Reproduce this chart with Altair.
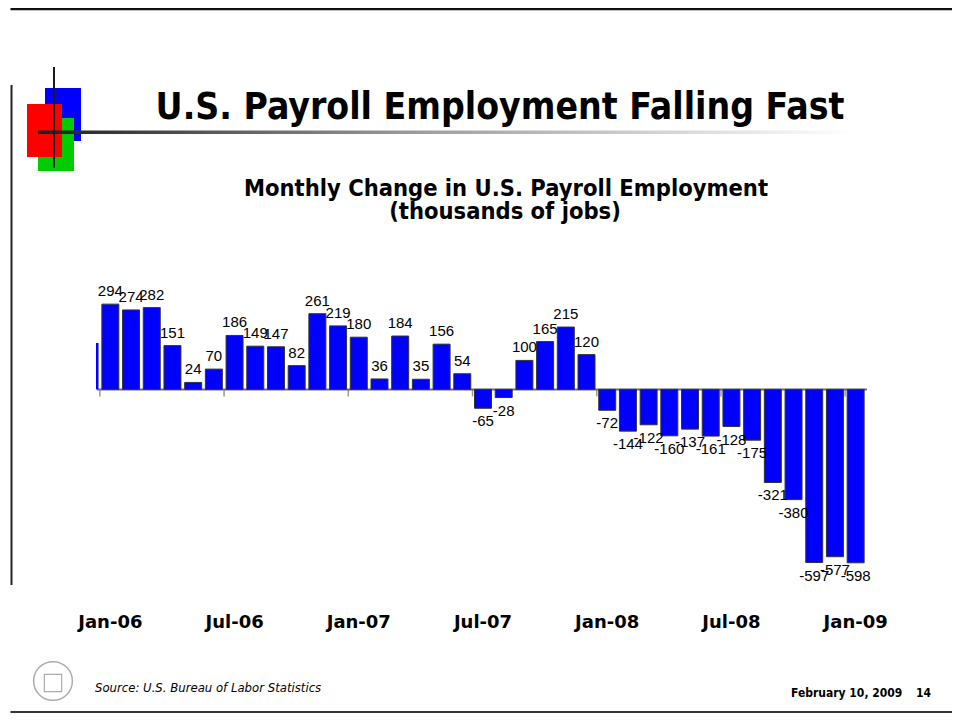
import altair as alt
import pandas as pd

# ---------------- data ----------------
month_abbr = ["Jan", "Feb", "Mar", "Apr", "May", "Jun",
              "Jul", "Aug", "Sep", "Oct", "Nov", "Dec"]
years = ["06", "07", "08", "09"]
months = [f"{m}-{y}" for y in years for m in month_abbr][:37]   # Jan-06 .. Jan-09

changes = [294, 274, 282, 151, 24, 70, 186, 149, 147, 82, 261, 219,
           180, 36, 184, 35, 156, 54, -65, -28, 100, 165, 215, 120,
           -72, -144, -122, -160, -137, -161, -128, -175, -321, -380, -597, -577,
           -598]
prior_month_value = [160]   # Dec-05, only its edge shows at the left

tick_labels = ["Jan-06", "Jul-06", "Jan-07", "Jul-07", "Jan-08", "Jul-08", "Jan-09"]

title = "U.S. Payroll Employment Falling Fast"
subtitle = ["Monthly Change in U.S. Payroll Employment", "(thousands of jobs)"]
source = "Source: U.S. Bureau of Labor Statistics"
date_text = "February 10, 2009"
page_no = "14"

df = pd.DataFrame({"month": months, "change": changes})
ticks_df = pd.DataFrame({"month": tick_labels})
one = pd.DataFrame({"k": [0]})
prior_df = pd.DataFrame({"v": prior_month_value})

# ---------------- scales ----------------
W, H = 766, 290
xs = alt.Scale(domain=months, paddingInner=0.18, paddingOuter=0.09)
ys = alt.Scale(domain=[-640, 360], nice=False, zero=False)
X = lambda **kw: alt.X("month:N", scale=xs, axis=None, sort=months, **kw)
Y = lambda f: alt.Y(f, scale=ys, axis=None)

bars = alt.Chart(df).mark_bar(color="#0000FF", stroke="#333333", strokeWidth=1).encode(
    x=X(), y=Y("change:Q"), y2=alt.datum(0),
)

labels_base = alt.Chart(df).transform_calculate(lbl="'' + datum.change")
lab_pos = labels_base.transform_filter("datum.change >= 0").mark_text(
    font="Liberation Sans", fontSize=15, color="black", baseline="alphabetic", dy=-8
).encode(x=X(), y=Y("change:Q"), text="lbl:N")

lab_neg = labels_base.transform_filter("datum.change < 0").mark_text(
    font="Liberation Sans", fontSize=15, color="black", baseline="alphabetic", dy=18
).encode(x=X(), y=Y("change:Q"), text="lbl:N")

zero_line = alt.Chart(one).mark_rule(color="#6e6e6e", strokeWidth=2).encode(
    y=alt.Y(datum=0, scale=ys, axis=None), x=alt.value(-3), x2=alt.value(W + 1)
)

prior_bar = alt.Chart(prior_df).mark_rect(color="#0000FF").encode(
    x=alt.value(-4), x2=alt.value(-1.5), y=Y("v:Q"), y2=alt.datum(0),
)

tick_marks = alt.Chart(ticks_df).mark_tick(
    orient="vertical", size=7, thickness=1.5, color="#6e6e6e", yOffset=3.5, xOffset=-2
).encode(x=X(bandPosition=0), y=alt.Y(datum=0, scale=ys, axis=None))

axis_labels = alt.Chart(ticks_df).mark_text(
    font="DejaVu Sans", fontWeight="bold", fontSize=18, color="black", baseline="alphabetic"
).encode(x=X(), y=alt.value(343), text="month:N")

# ---------------- slide decorations ----------------
def rect(x1, x2, y1, y2, **kw):
    return alt.Chart(one).mark_rect(**kw).encode(
        x=alt.value(x1), x2=alt.value(x2), y=alt.value(y1), y2=alt.value(y2))

def hline(x1, x2, y, **kw):
    return alt.Chart(one).mark_rule(**kw).encode(
        x=alt.value(x1), x2=alt.value(x2), y=alt.value(y))

def vline(x, y1, y2, **kw):
    return alt.Chart(one).mark_rule(**kw).encode(
        x=alt.value(x), y=alt.value(y1), y2=alt.value(y2))

def text(s, x, y, **kw):
    return alt.Chart(one).mark_text(text=s, baseline="alphabetic", **kw).encode(
        x=alt.value(x), y=alt.value(y))

grad = alt.Gradient(gradient="linear", x1=0, x2=1, y1=0, y2=0,
                    stops=[alt.GradientStop(color="#1e1e1e", offset=0),
                           alt.GradientStop(color="#9a9a9a", offset=0.45),
                           alt.GradientStop(color="#ffffff", offset=1)])

decor = [
    vline(-88.5, -200, 300, color="#222222", strokeWidth=2),      # left border (test span)
    hline(-89.5, 852, -276, color="#111111", strokeWidth=2.5),    # top border
    hline(-89.5, 852, 427, color="#333333", strokeWidth=2),       # bottom border
    rect(-55, -19, -197, -144, color="#0000FF"),                  # blue square
    rect(-62, -26, -167, -114, color="#00CC00"),                  # green square
    rect(-73, -38, -181, -128, color="#FF0000"),                  # red square
    rect(-62, 755, -154.5, -151, fill=grad),                      # gradient underline
    vline(-46, -218, -117, color="#1a1a1a", strokeWidth=2),       # vertical line
    text(title, 400, -166, font="DejaVu Sans Condensed", fontWeight="bold",
         fontSize=37, align="center", color="black"),
    text(subtitle[0], 406, -89, font="DejaVu Sans Condensed", fontWeight="bold",
         fontSize=23.5, align="center", color="black"),
    text(subtitle[1], 405, -66, font="DejaVu Sans Condensed", fontWeight="bold",
         fontSize=23.5, align="center", color="black"),
    text(source, -5, 407, font="DejaVu Sans Condensed", fontStyle="italic",
         fontSize=13, align="left", color="black"),
    text(date_text, 691, 412, font="DejaVu Sans Condensed", fontWeight="bold",
         fontSize=12, align="left", color="black"),
    text(page_no, 816, 412, font="DejaVu Sans Condensed", fontWeight="bold",
         fontSize=12, align="left", color="black"),
    # simplified state seal
    alt.Chart(one).mark_point(shape="circle", size=1500, filled=False, color="#8a8a8a",
                              strokeWidth=1.5).encode(x=alt.value(-47), y=alt.value(396)),
    alt.Chart(one).mark_point(shape="square", size=300, filled=False, color="#8a8a8a",
                              strokeWidth=1.2).encode(x=alt.value(-47), y=alt.value(398)),
]

chart = alt.layer(
    *decor, zero_line, prior_bar, bars, tick_marks, lab_pos, lab_neg, axis_labels
).properties(
    width=W, height=H,
    autosize=alt.AutoSizeParams(type="none"),
    padding={"left": 92, "top": 277, "right": 86, "bottom": 138},
    background="white",
).configure_view(stroke=None)

chart.save("out.html", embed_options={"renderer": "svg", "actions": False})
